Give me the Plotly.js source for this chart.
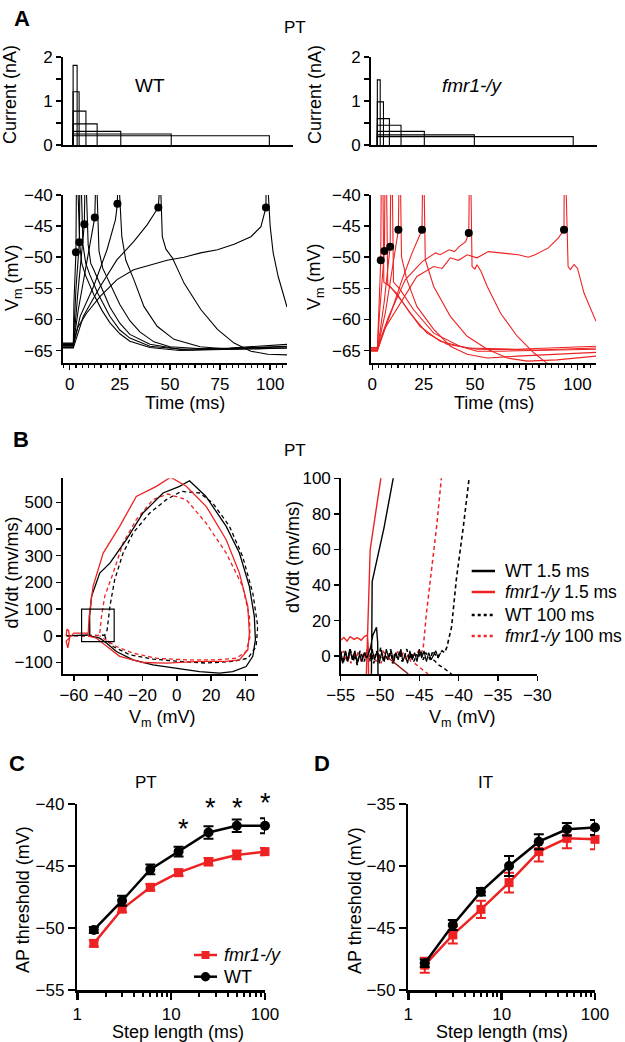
<!DOCTYPE html>
<html><head><meta charset="utf-8">
<script src="https://cdn.plot.ly/plotly-3.0.1.min.js"></script>
<style>html,body{margin:0;padding:0;background:#fff}#chart{width:625px;height:1042px}</style>
</head><body><div id="chart"></div>
<script>
// ---------------- DATA ----------------
// Panel A: current steps
const wtStepOnset = 1.7;
const wtStepLen = [2, 3, 6.4, 12, 23.8, 49, 98];
const wtStepAmp = [1.81, 1.21, 0.77, 0.48, 0.31, 0.25, 0.21];
const fmrStepOnset = 2.45;
const fmrStepLen = [1.4, 3, 5.9, 11.6, 23, 47.5, 95.9];
const fmrStepAmp = [1.48, 0.98, 0.6, 0.45, 0.31, 0.23, 0.19];

// Panel A: membrane potential traces [t (ms), Vm (mV)]
const wtTr1 = [[-3.5,-64.2],[1.8,-64.2],[2.1,-57.4],[3.1,-49.2],[3.3,-40],[3.6,20],[3.9,20],[4.2,-40],[5,-48],[6,-51],[8,-53],[12,-56],[16,-58.5],[20,-60.5],[25,-62.3],[30,-63.5],[40,-64.5],[55,-65],[80,-64.8],[108.4,-64.6]];
const wtTr2 = [[-3.5,-63.9],[1.8,-63.9],[3.1,-55.2],[4.8,-47.6],[5.0,-40],[5.3,20],[5.6,20],[5.9,-40],[6.6,-48],[8,-51],[10,-52.8],[14,-55.8],[20,-59.5],[25,-61.7],[30,-63],[40,-64.3],[60,-64.9],[108.4,-64.3]];
const wtTr3 = [[-3.5,-64.5],[1.8,-64.5],[3.9,-56.3],[6.1,-49.3],[7.3,-44.7],[7.5,-40],[7.8,20],[8.1,20],[8.4,-40],[9.2,-48],[10.5,-51],[12,-52],[16,-55],[20,-58],[25,-60.6],[30,-62.4],[40,-64],[55,-64.8],[80,-64.6],[108.4,-64.0]];
const wtTr4 = [[-3.5,-64.0],[1.8,-64.0],[4.3,-58.4],[7.7,-52],[11,-46.1],[12.5,-43.6],[12.8,-40],[13.1,20],[13.4,20],[13.7,-40],[14.6,-49],[16.5,-51.8],[20,-54.2],[25,-57.6],[30,-60.2],[35,-62],[42,-63.6],[50,-64.4],[70,-64.8],[108.4,-64.4]];
const wtTr5 = [[-3.5,-64.3],[1.8,-64.3],[5.2,-59.5],[11.9,-54.7],[18.6,-48.8],[22.8,-44],[23.8,-41.4],[24,-40],[24.3,20],[24.6,20],[24.9,-40],[26,-46.7],[28,-50.5],[32,-53.6],[37,-57.9],[43.6,-61.1],[52,-63.2],[65,-64.4],[80,-64.8],[108.4,-64.6]];
const wtTr6 = [[-3.5,-64.6],[1.8,-64.6],[6.8,-59.5],[15.2,-54.7],[23.6,-50.4],[31.9,-47.5],[38.6,-44.8],[44.2,-42],[44.6,-40],[44.9,20],[45.2,20],[45.5,-40],[46.2,-46.7],[48,-48.7],[51.2,-50.1],[57.1,-54.2],[65.4,-58.4],[73.7,-61.6],[82,-63.8],[90.4,-65.1],[98.8,-65.6],[108.4,-65.7]];
const wtTr7 = [[-3.5,-63.8],[1.8,-63.8],[4,-61.3],[8.4,-59],[15.2,-56.3],[23.6,-53.6],[31.9,-52],[40.3,-51.2],[48.6,-50.5],[57,-50],[65.3,-49.3],[73.7,-48.8],[82,-47.9],[90.4,-46.7],[95.4,-45.1],[97.9,-42],[98.2,-40],[98.5,20],[98.8,20],[99.1,-40],[100,-45],[101.5,-49.3],[104,-53.1],[108.4,-58]];
const wtThreshT = [3.1, 4.8, 7.3, 12.5, 23.8, 44.2, 97.9];
const wtThreshV = [-49.2, -47.6, -44.7, -43.6, -41.4, -42.0, -42.0];

const fmrTr1 = [[-0.8,-64.8],[2.45,-64.8],[3,-60],[4.1,-50.5],[4.3,-40],[4.6,20],[4.9,20],[5.2,-40],[5.6,-54],[8.7,-54.7],[15.1,-57.4],[23.2,-61.1],[33,-63.5],[46.2,-64.6],[70,-64.8],[109,-64.3]];
const fmrTr2 = [[-0.8,-64.6],[2.45,-64.6],[3.5,-59],[5.9,-49],[6.1,-40],[6.4,20],[6.7,20],[7,-40],[7.5,-54.4],[11.9,-55.8],[18.4,-59],[26.6,-62.2],[36.4,-64],[51,-64.8],[80,-64.9],[109,-64.6]];
const fmrTr3 = [[-0.8,-65.0],[2.45,-65.0],[5.7,-57.4],[8.7,-48.3],[8.9,-40],[9.2,20],[9.5,20],[9.8,-40],[10.3,-54],[13.6,-55.2],[20,-58.4],[29.9,-62.2],[42.7,-64.3],[51,-65.1],[62.5,-65.1],[109,-64.8]];
const fmrTr4 = [[-0.8,-64.7],[2.45,-64.7],[6.3,-59],[9.6,-52],[12.7,-45.6],[12.9,-40],[13.2,20],[13.5,20],[13.8,-40],[14.2,-49.9],[16.8,-53.6],[21.7,-57.9],[29.9,-61.6],[38,-64.3],[46.2,-65.6],[56,-66.2],[70.6,-65.9],[109,-65.3]];
const fmrTr5 = [[-0.8,-64.9],[2.45,-64.9],[9.6,-58.4],[14.5,-53.6],[19.4,-49.3],[24.2,-45.6],[24.4,-40],[24.7,20],[25,20],[25.3,-40],[25.8,-50.4],[29.9,-54.7],[38,-59.5],[46.2,-62.7],[56,-64.8],[65.8,-66.2],[75.5,-66.7],[90,-66.5],[109,-65.9]];
const fmrTr6 = [[-0.8,-64.5],[2.45,-64.5],[8,-59.5],[16.1,-53.6],[24.3,-50.7],[30.8,-49.3],[33,-49.6],[37.4,-48.8],[40,-49.1],[42.3,-48.3],[45.5,-47.5],[47,-46.1],[47.2,-40],[47.5,20],[47.8,20],[48.1,-40],[48.6,-51.5],[50,-51.9],[51,-51.2],[53,-52.3],[56,-54.7],[62.5,-59],[70.6,-62.7],[78.8,-65.4],[84.5,-66.9],[90,-67.8]];
const fmrTr7 = [[-0.8,-65.1],[2.45,-65.1],[6,-61.5],[13.6,-57.4],[21.7,-53.1],[29.9,-51.5],[34,-51.8],[38,-50.1],[42,-50.5],[46.2,-49.6],[51,-50.1],[56.5,-49.1],[63,-49.3],[71.1,-49.6],[76,-50],[79.3,-49.6],[85.8,-48.5],[90.7,-46.9],[93.4,-45.6],[93.6,-40],[93.9,20],[94.2,20],[94.5,-40],[95.4,-51.5],[96.5,-52],[98.3,-51.2],[100,-51.8],[103.2,-55.8],[109,-60.3]];
const fmrThreshT = [4.1, 5.9, 8.7, 12.7, 24.2, 47, 93.4];
const fmrThreshV = [-50.5, -49.0, -48.3, -45.6, -45.6, -46.1, -45.6];

// Panel B left: phase plots (Vm, dV/dt)
const wt15V = [-64.5,-60,-56,-52,-50.7,-50.8,-49.7,-44.9,-39,-29.4,-19.7,-8,1.6,7.4,17,28.8,36.5,42.3,45.2,45.8,44.3,40.4,32.6,24.9,13.3,-0.3,-13.9,-25.5,-35.2,-41,-44.9,-50.7];
const wt15D = [0,2,1,3,0,73,148,235,272,360,460,535,560,581,522,410,310,185,72,-15,-77,-115,-134,-140,-134,-121,-109,-90,-59,-27,-9,0];
const fmr15V = [-64.5,-64,-63,-62.5,-63.5,-64.5,-60,-56,-52,-51.7,-51.1,-48.8,-42.9,-33.3,-23.6,-11.9,-3.6,5.5,17.1,28.8,36.5,41.4,42.3,41.4,36.5,28.8,13.3,-6.1,-19.7,-33.3,-41,-46.8,-51.7];
const fmr15D = [0,25,20,-10,-45,-20,10,9,10,0,72,185,310,410,522,560,594,560,485,360,235,110,10,-52,-90,-96,-96,-102,-100,-77,-40,-9,0];
const wt100V = [-64,-60,-55,-50,-46,-42,-40.6,-39,-36.2,-31.3,-25.5,-15.8,-6.1,2.6,13.3,21,30.7,38.4,44.3,47.2,46.2,41.4,32.6,17.1,1.6,-13.9,-27.4,-37.1,-41,-42];
const wt100D = [0,1,-1,2,1,3,22,110,210,310,385,460,510,541,535,497,410,297,160,35,-40,-84,-96,-102,-96,-87,-71,-40,-15,0];
const fmr100V = [-64,-60,-55,-50,-45,-43.9,-42,-37.1,-31.3,-23.6,-13.9,-5.2,5.5,17.1,28.8,38.4,42.3,42.7,40.4,34.6,23,5.5,-11.9,-25.5,-35.2,-41,-45];
const fmr100D = [0,1,-1,1,2,72,148,235,348,435,510,531,510,422,310,185,72,-2,-59,-84,-90,-90,-84,-65,-40,-17,0];

// Panel B right: zoom on spike onset
const zWt15V = [-55,-54.75,-54.4,-54.1,-53.85,-53.5,-53.2,-52.9,-52.6,-52.3,-52,-51.7,-51.5,-51.2,-50.9,-50.6,-50.45,-50.3,-50.25,-50.6,-51.1,-51.05,-51,-49.5,-48.2,-47.9];
const zWt15D = [2,-4,3,-3,4,-2,3,-4,1,-3,2,-1,1,5,12,15.5,16.3,8,-12,-25,-12,10,42,72,100,110];
const zWtNoiseV = [-51.3,-51,-50.7,-50.35,-50.1,-49.8,-49.45,-49.2,-48.9,-48.55,-48.3,-48,-47.7,-47.35,-47.1,-46.8,-46.5,-46.2,-45.9,-45.6,-45.3,-45,-44.7,-44.4,-44.1,-43.8,-43.5,-43.2,-42.9,-42.6,-42.3];
const zWtNoiseD = [-3,4,-2,3,-4,2,-3,4,-1,3,-4,2,-2,4,-3,1,-4,3,-2,2,-3,4,-1,3,-3,2,-2,1,3,-1,2];
const zFmr15V = [-55,-54.6,-54.2,-53.8,-53.3,-52.9,-52.4,-52,-51.6,-51.5,-51.45,-51.6,-51.75,-51.25,-49.9,-49.7];
const zFmr15D = [9,10.5,8.5,11,9.5,10.5,9,11,12,5,-12,-30,-12,60,100,110];
const zWt100V = [-55,-54.7,-54.35,-54.1,-53.8,-53.4,-53.2,-52.9,-52.55,-52.3,-52,-51.65,-51.4,-51.1,-50.8,-50.45,-50.2,-49.9,-49.55,-49.3,-49,-48.65,-48.4,-48.1,-47.8,-47.45,-47.2,-46.9,-46.6,-46.25,-46,-45.7,-45.35,-45.1,-44.8,-44.5,-44.2,-43.85,-43.6,-43.3,-43,-42.7,-42.35,-42.1,-41.8,-41.5,-40.9,-40.3,-39.4,-38.6,-38.4];
const zWt100D = [3,-4,2,-2,4,-3,1,-5,3,0,-3,4,-2,2,-4,3,-1,5,-3,1,-2,4,-4,2,-1,3,-3,0,4,-2,2,-3,1,-1,3,-2,2,0,-2,3,1,-1,2,3,2,5,16.5,43,73,100,110];
const zFmr100V = [-55,-54.65,-54.3,-54,-53.7,-53.35,-53.05,-52.7,-52.4,-52.05,-51.8,-51.45,-51.15,-50.8,-50.5,-50.2,-49.85,-49.6,-49.25,-48.95,-48.6,-48.3,-48,-47.65,-47.35,-47.05,-46.7,-46.4,-46.1,-45.75,-45.45,-45.1,-44.8,-44.5,-44.1,-43.4,-42.8,-42.2,-42];
const zFmr100D = [-2,3,-3,1,-4,2,-1,3,-3,2,-2,4,-1,1,-3,2,-4,3,0,-2,2,-3,1,3,-1,2,-2,1,-3,2,0,3,1,5,24,50,73,100,110];
const zWt100TailV = [-43.2,-42.5,-41.8,-40.9];
const zWt100TailD = [-2,-5,-7,-10];
const zFmr100TailV = [-45.6,-45,-44.4,-43.9];
const zFmr100TailD = [-4,-6,-8,-10];
const zFmr15TailV = [-49.2,-48.4,-47.5,-46.4];
const zFmr15TailD = [0,-3,-6,-10];

// Panels C & D: AP threshold vs step length
const stepLength = [1.5, 3, 6, 12, 25, 50, 100];
const ptWT = [-50.16, -47.8, -45.27, -43.84, -42.3, -41.75, -41.75];
const ptWTerr = [0.25, 0.4, 0.4, 0.4, 0.5, 0.5, 0.6];
const ptFmr = [-51.24, -48.47, -46.72, -45.54, -44.65, -44.11, -43.84];
const ptFmrErr = [0.25, 0.25, 0.25, 0.25, 0.3, 0.35, 0.3];
const itWT = [-47.85, -44.76, -42.07, -40.0, -38.04, -37.04, -36.9];
const itWTerr = [0.3, 0.4, 0.3, 0.8, 0.6, 0.5, 0.6];
const itFmr = [-48.0, -45.56, -43.5, -41.34, -38.84, -37.77, -37.85];
const itFmrErr = [0.6, 0.7, 0.7, 0.8, 0.8, 0.8, 0.8];
const sigSteps = [13.5, 26, 51, 100];
const sigStarMV = [-41.6, -39.95, -39.95, -39.5];

// ---------------- LAYOUT HELPERS ----------------
const W = 625, H = 1042;
const FONT = 'Arial, "Liberation Sans", Helvetica, sans-serif';
const RED = '#ee2222';
const BLACK = '#000000';
function dx(a, b) { return [a / W, b / W]; }
function dy(t, b) { return [1 - b / H, 1 - t / H]; }
function px(x) { return x / W; }
function py(y) { return 1 - y / H; }

const traces = [];
function addStepTraces(onset, lens, amps, xa, ya) {
  lens.forEach((L, i) => {
    traces.push({type: 'scatter', mode: 'lines', x: [onset, onset, onset + L, onset + L], y: [0, amps[i], amps[i], 0],
      xaxis: xa, yaxis: ya, line: {color: BLACK, width: 1.1}, hoverinfo: 'skip'});
  });
}
addStepTraces(wtStepOnset, wtStepLen, wtStepAmp, 'x', 'y');
addStepTraces(fmrStepOnset, fmrStepLen, fmrStepAmp, 'x3', 'y3');

function addVm(tr, color, xa, ya) {
  traces.push({type: 'scatter', mode: 'lines', x: tr.map(d => d[0]), y: tr.map(d => d[1]),
    xaxis: xa, yaxis: ya, line: {color: color, width: 1.1}, hoverinfo: 'skip'});
}
[wtTr1, wtTr2, wtTr3, wtTr4, wtTr5, wtTr6, wtTr7].forEach(tr => addVm(tr, BLACK, 'x2', 'y2'));
[fmrTr1, fmrTr2, fmrTr3, fmrTr4, fmrTr5, fmrTr6, fmrTr7].forEach(tr => addVm(tr, RED, 'x4', 'y4'));
traces.push({type: 'scatter', mode: 'markers', x: wtThreshT, y: wtThreshV, xaxis: 'x2', yaxis: 'y2',
  marker: {color: BLACK, size: 8}, cliponaxis: false});
traces.push({type: 'scatter', mode: 'markers', x: fmrThreshT, y: fmrThreshV, xaxis: 'x4', yaxis: 'y4',
  marker: {color: BLACK, size: 8}, cliponaxis: false});

function addPhase(xs, ys, color, dash, xa, ya, w) {
  traces.push({type: 'scatter', mode: 'lines', x: xs, y: ys, xaxis: xa, yaxis: ya,
    line: {color: color, width: w || 1.3, dash: dash}, hoverinfo: 'skip'});
}
const DASH = '4px,3px';
addPhase(wt100V, wt100D, BLACK, DASH, 'x5', 'y5');
addPhase(fmr100V, fmr100D, RED, DASH, 'x5', 'y5');
addPhase(wt15V, wt15D, BLACK, 'solid', 'x5', 'y5');
addPhase(fmr15V, fmr15D, RED, 'solid', 'x5', 'y5');

addPhase(zFmr100V, zFmr100D, RED, DASH, 'x6', 'y6', 1.5);
addPhase(zFmr100TailV, zFmr100TailD, RED, DASH, 'x6', 'y6', 1.4);
addPhase(zWt100V, zWt100D, BLACK, DASH, 'x6', 'y6', 1.6);
addPhase(zWt100TailV, zWt100TailD, BLACK, DASH, 'x6', 'y6', 1.4);
addPhase(zWtNoiseV, zWtNoiseD, BLACK, 'solid', 'x6', 'y6', 1.2);
addPhase(zFmr15V, zFmr15D, RED, 'solid', 'x6', 'y6', 1.4);
addPhase(zFmr15TailV, zFmr15TailD, '#8a1010', 'solid', 'x6', 'y6', 1.4);
addPhase(zWt15V, zWt15D, BLACK, 'solid', 'x6', 'y6', 1.4);

function addThr(ys, err, color, symbol, xa, ya) {
  traces.push({type: 'scatter', mode: 'lines+markers', x: stepLength, y: ys, xaxis: xa, yaxis: ya,
    line: {color: color, width: 2.5}, marker: {color: color, size: symbol === 'square' ? 9 : 10, symbol: symbol},
    error_y: {type: 'data', array: err, visible: true, color: color, thickness: 2, width: 5},
    cliponaxis: false, hoverinfo: 'skip'});
}
addThr(ptFmr, ptFmrErr, RED, 'square', 'x7', 'y7');
addThr(ptWT, ptWTerr, BLACK, 'circle', 'x7', 'y7');
addThr(itFmr, itFmrErr, RED, 'square', 'x8', 'y8');
addThr(itWT, itWTerr, BLACK, 'circle', 'x8', 'y8');

// ---------------- AXES ----------------
function ax(o) {
  return Object.assign({showgrid: false, zeroline: false, showline: true, linecolor: BLACK, linewidth: 1.5,
    ticks: 'outside', tickcolor: BLACK, tickwidth: 1.5, ticklen: 5,
    tickfont: {size: 17, family: FONT, color: BLACK}, fixedrange: true}, o);
}
const C_X = [77.3, 265], C_Y = [804, 990], C_RANGE = [-55, -40];
const layout = {
  width: W, height: H, margin: {l: 0, r: 0, t: 0, b: 0}, showlegend: false,
  paper_bgcolor: '#fff', plot_bgcolor: 'rgba(0,0,0,0)',
  font: {family: FONT, color: BLACK, size: 17},
  xaxis: ax({domain: dx(62.7, 293), range: [-3.5, 111.5], anchor: 'y', ticks: '', showticklabels: false}),
  yaxis: ax({domain: dy(57, 145), range: [0, 2], dtick: 1, anchor: 'x', minor: {dtick: 0.5, ticks: 'outside', ticklen: 5, tickwidth: 1.5, tickcolor: BLACK}}),
  xaxis2: ax({domain: dx(62.7, 287), range: [-3.5, 108.4], dtick: 25, tick0: 0, anchor: 'y2', minor: {dtick: 3.125, ticks: 'outside', ticklen: 3, tickwidth: 1.2, tickcolor: BLACK}}),
  yaxis2: ax({domain: dy(195, 363), range: [-67, -40], dtick: 5, anchor: 'x2'}),
  xaxis3: ax({domain: dx(370.7, 597), range: [-0.8, 110], anchor: 'y3', ticks: '', showticklabels: false}),
  yaxis3: ax({domain: dy(57, 145), range: [0, 2], dtick: 1, anchor: 'x3', minor: {dtick: 0.5, ticks: 'outside', ticklen: 5, tickwidth: 1.5, tickcolor: BLACK}}),
  xaxis4: ax({domain: dx(370.7, 596), range: [-0.8, 109], dtick: 25, tick0: 0, anchor: 'y4', minor: {dtick: 3.125, ticks: 'outside', ticklen: 3, tickwidth: 1.2, tickcolor: BLACK}}),
  yaxis4: ax({domain: dy(195, 363), range: [-67, -40], dtick: 5, anchor: 'x4'}),
  xaxis5: ax({domain: dx(62.7, 258.3), range: [-66.5, 47.5], dtick: 20, tick0: 0, anchor: 'y5'}),
  yaxis5: ax({domain: dy(478.3, 674), range: [-143, 590], dtick: 100, tick0: 0, anchor: 'x5'}),
  xaxis6: ax({domain: dx(340.7, 537.3), range: [-55, -30], dtick: 5, tick0: 0, anchor: 'y6'}),
  yaxis6: ax({domain: dy(478.3, 674), range: [-10, 100], dtick: 20, tick0: 0, anchor: 'x6'}),
  xaxis7: ax({domain: dx(C_X[0], C_X[1]), type: 'log', range: [0, 2], dtick: 1, anchor: 'y7', linewidth: 2.5, tickwidth: 2.5, ticklen: 7,
    minor: {dtick: 'D1', ticks: 'outside', ticklen: 4, tickwidth: 2, tickcolor: BLACK}}),
  yaxis7: ax({domain: dy(C_Y[0], C_Y[1]), range: C_RANGE, dtick: 5, anchor: 'x7', linewidth: 2.5, tickwidth: 2.5, ticklen: 7}),
  xaxis8: ax({domain: dx(408.3, 595), type: 'log', range: [0, 2], dtick: 1, anchor: 'y8', linewidth: 2.5, tickwidth: 2.5, ticklen: 7,
    minor: {dtick: 'D1', ticks: 'outside', ticklen: 4, tickwidth: 2, tickcolor: BLACK}}),
  yaxis8: ax({domain: dy(804, 990), range: [-50, -35], dtick: 5, anchor: 'x8', linewidth: 2.5, tickwidth: 2.5, ticklen: 7}),
};

// ---------------- ANNOTATIONS ----------------
function ann(text, x, y, size, opts) {
  return Object.assign({text: text, xref: 'paper', yref: 'paper', x: px(x), y: py(y), xanchor: 'center', yanchor: 'middle',
    showarrow: false, font: {size: size, family: FONT, color: BLACK}}, opts || {});
}
const VM = 'V<sub>m</sub> (mV)';
const annotations = [
  ann('<b>A</b>', 21.7, 19, 22),
  ann('PT', 295, 28, 17),
  ann('WT', 150, 85, 19),
  ann('<i>fmr1-/y</i>', 472.5, 85, 19),
  ann('Current (nA)', 10, 95, 18, {textangle: -90}),
  ann('Current (nA)', 315, 95, 18, {textangle: -90}),
  ann(VM, 13, 278, 18, {textangle: -90}),
  ann(VM, 316, 277, 18, {textangle: -90}),
  ann('Time (ms)', 185, 403, 18),
  ann('Time (ms)', 494, 403, 18),
  ann('<b>B</b>', 21, 440, 22),
  ann('PT', 295, 450, 17),
  ann('dV/dt (mv/ms)', 11.5, 573, 18, {textangle: -90}),
  ann('dV/dt (mv/ms)', 293, 557, 18, {textangle: -90}),
  ann(VM, 162, 718, 18),
  ann(VM, 462, 718, 18),
  ann('<b>C</b>', 17, 763, 22),
  ann('<b>D</b>', 322, 763, 22),
  ann('PT', 146, 782, 17),
  ann('IT', 485, 782, 17),
  ann('AP threshold (mV)', 23, 900, 18, {textangle: -90}),
  ann('AP threshold (mV)', 355, 900, 18, {textangle: -90}),
  ann('Step length (ms)', 178, 1032, 18),
  ann('Step length (ms)', 502, 1032, 18),
];
// significance asterisks over PT steps (mapped through panel C's scales)
sigSteps.forEach((s, i) => {
  const xp = C_X[0] + (Math.log10(s) / 2) * (C_X[1] - C_X[0]);
  const yp = C_Y[0] + (C_RANGE[1] - sigStarMV[i]) / (C_RANGE[1] - C_RANGE[0]) * (C_Y[1] - C_Y[0]);
  annotations.push(ann('*', xp, yp + 5, 27));
});
// legend B
const legB = [
  {label: 'WT 1.5 ms', color: BLACK, dash: 'solid', y: 571},
  {label: '<i>fmr1-/y</i> 1.5 ms', color: RED, dash: 'solid', y: 592},
  {label: 'WT 100 ms', color: BLACK, dash: '3px,3px', y: 615},
  {label: '<i>fmr1-/y</i> 100 ms', color: RED, dash: '3px,3px', y: 636},
];
const shapes = [];
legB.forEach(l => {
  shapes.push({type: 'line', xref: 'paper', yref: 'paper', x0: px(471.7), x1: px(495), y0: py(l.y), y1: py(l.y),
    line: {color: l.color, width: 2.5, dash: l.dash}});
  annotations.push(ann(l.label, 503, l.y, 17.5, {xanchor: 'left'}));
});
// legend C
shapes.push({type: 'line', xref: 'paper', yref: 'paper', x0: px(194), x1: px(217), y0: py(955), y1: py(955), line: {color: RED, width: 2.5}});
shapes.push({type: 'rect', xref: 'paper', yref: 'paper', x0: px(201.5), x1: px(209.5), y0: py(959), y1: py(951), fillcolor: RED, line: {width: 0}});
shapes.push({type: 'line', xref: 'paper', yref: 'paper', x0: px(194), x1: px(217), y0: py(976.7), y1: py(976.7), line: {color: BLACK, width: 2.5}});
shapes.push({type: 'circle', xref: 'paper', yref: 'paper', x0: px(200.8), x1: px(210.2), y0: py(981.4), y1: py(972), fillcolor: BLACK, line: {width: 0}});
annotations.push(ann('<i>fmr1-/y</i>', 222, 955, 18, {xanchor: 'left'}));
annotations.push(ann('WT', 222, 976.7, 18, {xanchor: 'left'}));
// inset box on B left
shapes.push({type: 'rect', xref: 'x5', yref: 'y5', x0: -55.5, x1: -36.5, y0: -22, y1: 100, line: {color: BLACK, width: 1.2}});

layout.annotations = annotations;
layout.shapes = shapes;

Plotly.newPlot('chart', traces, layout, {staticPlot: true, displayModeBar: false});
</script>
</body></html>
